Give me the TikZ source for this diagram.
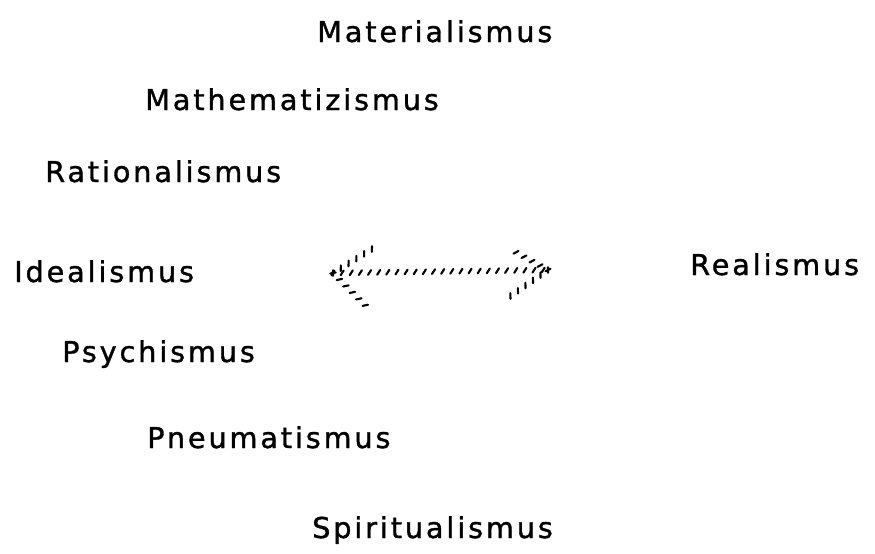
\documentclass[tikz,border=0pt]{standalone}
\usepackage{fontspec}
\newfontfamily\handfont[LetterSpace=10,FakeBold=1.2]{DejaVu Sans}
\usetikzlibrary{decorations.markings}

\begin{document}
\begin{tikzpicture}[
    x=0.03cm, y=-0.03cm,
    word/.style={inner sep=0pt, anchor=base west, font=\handfont\fontsize{24.5}{30}\selectfont},
    hatch/.style={decoration={markings,
        mark=between positions 0 and 1 step 7.8pt with {\draw[line width=1.8pt, line cap=round] (-1.3pt,-2pt) -- (1.3pt,2pt);}},
        decorate}
]
\useasboundingbox (0,0) rectangle (875,553);

\node[word] (mater) at (317,42) {Materialismus};
\node[word] (mathe) at (145,110) {Mathematizismus};
\node[word] (ratio) at (45,182) {Rationalismus};
\node[word] (ideal) at (14,282) {Idealismus};
\node[word] (real) at (690,275) {Realismus};
\node[word] (psych) at (62,362) {Psychismus};
\node[word] (pneum) at (147,448) {Pneumatismus};
\node[word] (spiri) at (312,538) {Spiritualismus};

% the double arrow
\coordinate (tipL) at (333,273);
\coordinate (tipR) at (548,270);
\coordinate (barbLu) at (372,249);
\coordinate (barbLd) at (368,308);
\coordinate (barbRu) at (510,249);
\coordinate (barbRd) at (506,299);

\draw[hatch] (tipL) -- (tipR);
\draw[hatch] (tipL) -- (barbLu);
\draw[hatch] (tipL) -- (barbLd);
\draw[hatch] (tipR) -- (barbRu);
\draw[hatch] (tipR) -- (barbRd);

\end{tikzpicture}
\end{document}
